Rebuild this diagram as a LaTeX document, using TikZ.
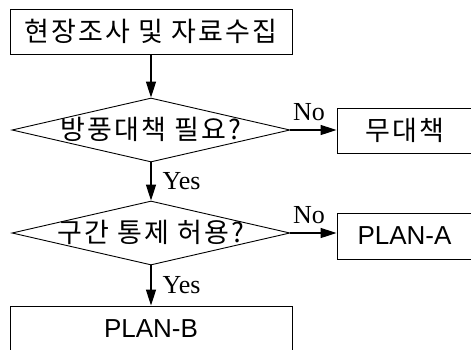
\documentclass[tikz,border=0pt]{standalone}
\usepackage{fontspec}
\setmainfont{Liberation Serif}
\newfontfamily\krfont{Noto Sans CJK KR}[LetterSpace=8]
\newfontfamily\planfont{Liberation Sans}
\usetikzlibrary{shapes.geometric,arrows.meta}

\begin{document}
\begin{tikzpicture}[x=1pt,y=-1pt,
        >={Triangle[length=16pt,width=10pt]},
        box/.style={draw, rectangle, line width=0.9pt, inner sep=0pt,
            font=\krfont\fontsize{27}{27}\selectfont},
        decision/.style={draw, diamond, line width=0.9pt, inner sep=0pt,
            minimum width=278pt, minimum height=64pt,
            font=\krfont\fontsize{27}{27}\selectfont},
        plan/.style={box, font=\planfont\fontsize{26}{26}\selectfont},
        flow/.style={->, line width=1.4pt},
        answer/.style={font=\fontsize{26}{26}\selectfont, inner sep=2pt}]

        \clip (0,0) rectangle (471,349);

        \node[box, minimum width=282pt, minimum height=45pt] (survey) at (151,31.5) {현장조사 및 자료수집};
        \node[decision] (windq) at (151,130) {\makebox[0pt]{\raisebox{4pt}{방풍대책 필요?}}};
        \node[decision] (closeq) at (151,233) {\makebox[0pt]{\raisebox{4pt}{구간 통제 허용?}}};

        \node[box, minimum width=135pt, minimum height=45pt] (nomeasure) at (404.5,130.5) {무대책};
        \node[plan, minimum width=135pt, minimum height=46pt] (plana) at (404.5,236) {PLAN-A};
        \node[plan, minimum width=282pt, minimum height=45pt] (planb) at (151,328.5) {PLAN-B};

        \draw[flow] (survey) -- (windq);
        \draw[flow] (windq) -- node[answer, right=9pt] {Yes} (closeq);
        \draw[flow] (closeq) -- node[answer, right=9pt] {Yes} (planb);

        \draw[flow] (windq.east) -- (windq.east -| nomeasure.west)
            node[answer, pos=0, anchor=south west, yshift=7pt] {No};
        \draw[flow] (closeq.east) -- (closeq.east -| plana.west)
            node[answer, pos=0, anchor=south west, yshift=7pt] {No};

\end{tikzpicture}
\end{document}
